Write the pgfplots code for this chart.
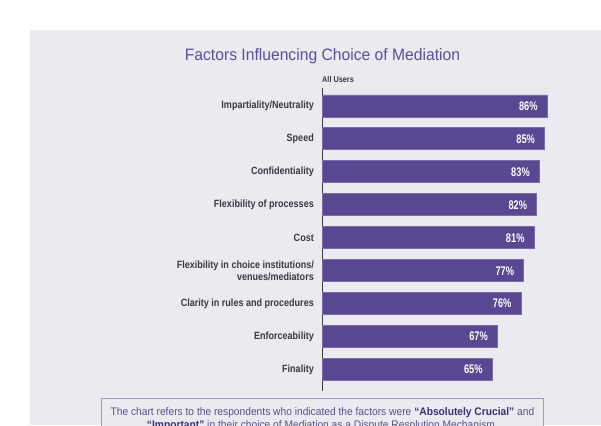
\documentclass[border=0pt]{standalone}
\usepackage{pgfplots}
\pgfplotsset{compat=1.18}
\usepackage{pgfplotstable}
\usepackage{fontspec}
\setmainfont{Liberation Sans}
\newfontfamily\cond[FakeStretch=0.86]{Liberation Sans}
\newfontfamily\condv[FakeStretch=0.74]{Liberation Sans}
\newfontfamily\condt[FakeStretch=0.95]{Liberation Sans}
\newfontfamily\condn[FakeStretch=0.93]{Liberation Sans}
\definecolor{barc}{HTML}{5A4791}
\definecolor{panel}{HTML}{ECEAF1}
\definecolor{titlec}{HTML}{5E4E9A}
\definecolor{lblc}{HTML}{3A3840}
\definecolor{notec}{HTML}{5A4E8E}
\definecolor{noteb}{HTML}{3B2F78}
\definecolor{boxc}{HTML}{A297C8}

\pgfplotstableread{
idx value
0 65
1 67
2 76
3 77
4 81
5 82
6 83
7 85
8 86
}\mediation

\begin{document}
\begin{tikzpicture}
\useasboundingbox (0,0) rectangle (601pt,425pt);
\clip (0,0) rectangle (601pt,425pt);
\fill[white] (0,0) rectangle (601pt,425pt);
\fill[panel] (30pt,0) rectangle (601pt,395.3pt);
\node[anchor=base, text=titlec, font=\fontsize{16.5}{18}\selectfont\condt] at (322.5pt,364pt) {Factors Influencing Choice of Mediation};
\node[anchor=base west, inner sep=0pt, text=lblc, font=\fontsize{8.5}{10}\selectfont\bfseries\cond] at (322pt,342pt) {All Users};

\begin{axis}[
  at={(322pt,34pt)}, anchor=south west,
  scale only axis,
  width=262pt, height=303.2pt,
  xmin=0, xmax=100,
  ymin=-0.65, ymax=8.55,
  axis y line=left, axis x line=none,
  axis line style={-, draw=lblc, line width=0.6pt},
  xbar, bar width=22pt,
  ytick={0,...,8},
  yticklabels={Finality, Enforceability, {Clarity in rules and procedures}, {Flexibility in choice institutions/\\venues/mediators}, Cost, {Flexibility of processes}, Confidentiality, Speed, {Impartiality/Neutrality}},
  major tick length=0pt,
  yticklabel style={align=right, anchor=east, inner sep=0pt, xshift=-8pt, text=lblc, font=\fontsize{10.5}{12.5}\selectfont\bfseries\cond},
  point meta=x,
  /pgf/number format/assume math mode=true,
  nodes near coords={\pgfmathprintnumber{\pgfplotspointmeta}\%},
  nodes near coords style={anchor=east, xshift=-6pt, text=white, font=\fontsize{12.5}{13}\selectfont\bfseries\condv},
  clip=false,
]
\addplot[fill=barc, draw=barc!80!white, line width=0.8pt] table[x=value, y=idx] {\mediation};
\end{axis}

\draw[boxc, line width=1pt, fill=panel] (101.7pt,26.7pt) rectangle (543pt,-10pt);
\node[anchor=base, inner sep=0pt, text=notec, font=\fontsize{11}{12}\selectfont\condn] at (322.4pt,10pt) {The chart refers to the respondents who indicated the factors were \textcolor{noteb}{\bfseries “Absolutely Crucial”} and};
\node[anchor=base, inner sep=0pt, text=notec, font=\fontsize{11}{12}\selectfont\condn] at (322.4pt,-3pt) {\textcolor{noteb}{\bfseries “Important”} in their choice of Mediation as a Dispute Resolution Mechanism.};
\end{tikzpicture}
\end{document}
